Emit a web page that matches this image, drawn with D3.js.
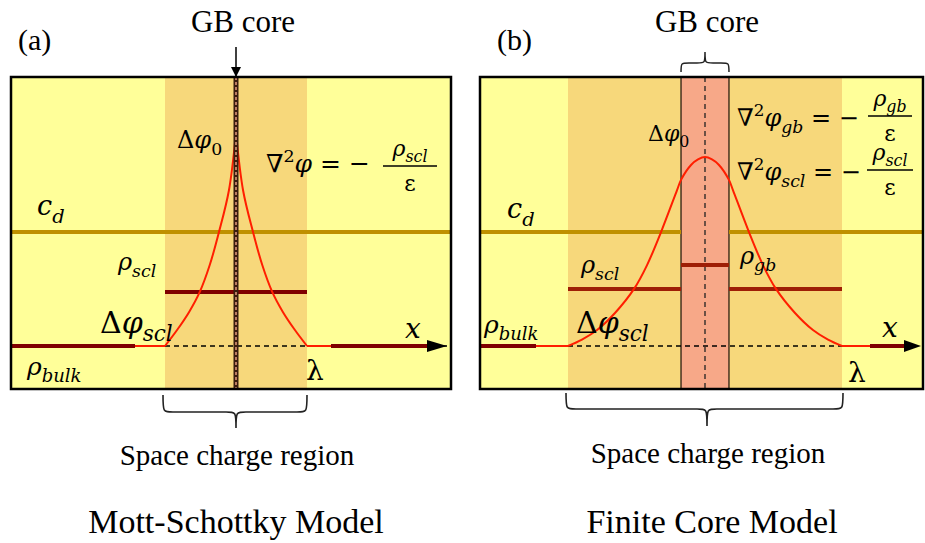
<!DOCTYPE html>
<meta charset="utf-8">
<script src="https://d3js.org/d3.v7.min.js"></script>
<style>
body { margin: 0; background: #fff; }
</style>
<div id="my_dataviz"></div>
<script>

// ---- data ----
var panelTags = ["(a)", "(b)"];
var modelNames = ["Mott-Schottky Model", "Finite Core Model"];
var regionLabel = "Space charge region";
var coreLabel = "GB core";

// potential profile, position in units of lambda, potential relative to peak of (a)
var msPos = [-1, -0.83, -0.66, -0.51, -0.37, -0.24, -0.1, 0];
var msPhi = [0, 0.075, 0.16, 0.254, 0.38, 0.535, 0.73, 1];
var msPosR = [0, 0.1, 0.24, 0.37, 0.51, 0.66, 0.83, 1];
var msPhiR = [1, 0.73, 0.535, 0.38, 0.254, 0.16, 0.075, 0];

var fcPos = [-1, -0.898, -0.788, -0.657, -0.518, -0.423, -0.321, -0.204, -0.175, -0.102, -0.051, 0,
             0.051, 0.102, 0.175, 0.204, 0.321, 0.423, 0.518, 0.657, 0.788, 0.898, 1];
var fcPhi = [0, 0.03, 0.075, 0.155, 0.268, 0.38, 0.535, 0.732, 0.78, 0.85, 0.876, 0.887,
             0.876, 0.85, 0.78, 0.732, 0.535, 0.38, 0.268, 0.155, 0.075, 0.03, 0];
var fcCore = 0.175;   // half width of the finite core (units of lambda)

// horizontal levels (same vertical units)
var levelCd = 0.535;
var msScl = 0.254;
var fcScl = 0.268;
var fcGb = 0.38;

// ---- layout ----
var W = 925, H = 543;
var SERIF = "'Liberation Serif', 'Times New Roman', Times, serif";
var MATHF = "'DejaVu Serif', 'Liberation Serif', serif";

var svg = d3.select("#my_dataviz").append("svg")
  .attr("width", W).attr("height", H);

var defs = svg.append("defs");
defs.append("marker").attr("id", "arr")
  .attr("viewBox", "0 0 10 10").attr("refX", 10).attr("refY", 5)
  .attr("markerWidth", 12).attr("markerHeight", 10).attr("markerUnits", "userSpaceOnUse")
  .attr("orient", "auto")
  .append("path").attr("d", "M0,0 L10,5 L0,10 z").attr("fill", "#000");

var y = d3.scaleLinear().domain([0, 1]).range([346, 133]);
var xa = d3.scaleLinear().domain([-1, 1]).range([165, 307]);
var xb = d3.scaleLinear().domain([-1, 1]).range([568, 842]);

var YELLOW = "#FFFF99", BAND = "#F7D87B", CD = "#BF9000", MAROON = "#7F0000",
    BRICK = "#9E1E06", RED = "#FF1E00", CORE = "#F7A888";

var boxes = [{x0: 11, x1: 451}, {x0: 480, x1: 923}];
var top0 = 77, bot0 = 389;

function brace(x1, x2, y0, ym, tip, xm, r) {
  return "M" + x1 + "," + y0 +
    " C" + x1 + "," + ym + " " + x1 + "," + ym + " " + (x1 + r) + "," + ym +
    " L" + (xm - r) + "," + ym +
    " C" + xm + "," + ym + " " + xm + "," + ym + " " + xm + "," + tip +
    " C" + xm + "," + ym + " " + xm + "," + ym + " " + (xm + r) + "," + ym +
    " L" + (x2 - r) + "," + ym +
    " C" + x2 + "," + ym + " " + x2 + "," + ym + " " + x2 + "," + y0;
}

function label(x, yy, txt, size, anchor) {
  svg.append("text").attr("x", x).attr("y", yy)
    .attr("font-family", SERIF).attr("font-size", size).attr("fill", "#000")
    .attr("text-anchor", anchor || "start").text(txt);
}

// math text: parts = [[text, kind]] kind: "i" italic, "u" upright, "s" subscript, "n" upright subscript, "p" superscript
function math(x, yy, parts, size, anchor) {
  var t = svg.append("text").attr("x", x).attr("y", yy)
    .attr("font-family", MATHF).attr("font-style", "italic").attr("fill", "#000")
    .attr("font-size", size).attr("text-anchor", anchor || "start");
  var shift = 0;
  parts.forEach(function(p) {
    var sp = t.append("tspan").text(p[0]);
    var target = 0;
    if (p[1] == "s" || p[1] == "n") { target = size * 0.28; sp.attr("font-size", size * 0.72); }
    if (p[1] == "p") { target = -size * 0.4; sp.attr("font-size", size * 0.7).attr("font-style", "normal"); }
    if (p[1] == "u" || p[1] == "n") sp.attr("font-style", "normal");
    sp.attr("dy", target - shift);
    shift = target;
  });
  return t;
}

function frac(cx, numY, barY, denY, num, sub, size, w) {
  math(cx, numY, [[num, "i"], [sub, "s"]], size, "middle");
  svg.append("line").attr("x1", cx - w / 2).attr("x2", cx + w / 2)
    .attr("y1", barY).attr("y2", barY).attr("stroke", "#000").attr("stroke-width", 1.3);
  math(cx, denY, [["ε", "u"]], size, "middle");
}

var curveLine = function(xs) {
  return d3.line().x(function(d) { return xs(d[0]); }).y(function(d) { return y(d[1]); })
    .curve(d3.curveCatmullRom.alpha(0.5));
};

// ================= panel (a) =================
var A = boxes[0];
svg.append("rect").attr("x", A.x0).attr("y", top0).attr("width", A.x1 - A.x0).attr("height", bot0 - top0).attr("fill", YELLOW);
svg.append("rect").attr("x", xa(-1)).attr("y", top0).attr("width", xa(1) - xa(-1)).attr("height", bot0 - top0).attr("fill", BAND);

svg.append("line").attr("x1", A.x0).attr("x2", A.x1).attr("y1", y(levelCd)).attr("y2", y(levelCd))
  .attr("stroke", CD).attr("stroke-width", 4);
svg.append("line").attr("x1", xa(-1)).attr("x2", xa(1)).attr("y1", y(msScl)).attr("y2", y(msScl))
  .attr("stroke", MAROON).attr("stroke-width", 4);

// baseline
svg.append("line").attr("x1", A.x0).attr("x2", 135).attr("y1", y(0)).attr("y2", y(0)).attr("stroke", MAROON).attr("stroke-width", 4);
svg.append("line").attr("x1", 135).attr("x2", xa(-1)).attr("y1", y(0)).attr("y2", y(0)).attr("stroke", RED).attr("stroke-width", 2);
svg.append("line").attr("x1", xa(-1)).attr("x2", 447).attr("y1", y(0)).attr("y2", y(0)).attr("stroke", "#000")
  .attr("stroke-width", 1.3).attr("stroke-dasharray", "5,4");
svg.append("line").attr("x1", xa(1)).attr("x2", 331).attr("y1", y(0)).attr("y2", y(0)).attr("stroke", RED).attr("stroke-width", 2);
svg.append("line").attr("x1", 331).attr("x2", 427).attr("y1", y(0)).attr("y2", y(0)).attr("stroke", MAROON).attr("stroke-width", 4);
svg.append("path").attr("d", "M427,340 L447,346 L427,352 z").attr("fill", "#000");

svg.append("path").datum(d3.zip(msPos, msPhi)).attr("d", curveLine(xa))
  .attr("fill", "none").attr("stroke", RED).attr("stroke-width", 2);
svg.append("path").datum(d3.zip(msPosR, msPhiR)).attr("d", curveLine(xa))
  .attr("fill", "none").attr("stroke", RED).attr("stroke-width", 2);

// thin core
svg.append("rect").attr("x", xa(0) - 2.5).attr("y", top0).attr("width", 5).attr("height", bot0 - top0).attr("fill", "#3A1E0E");
svg.append("line").attr("x1", xa(0)).attr("x2", xa(0)).attr("y1", top0).attr("y2", bot0)
  .attr("stroke", "#F2A585").attr("stroke-width", 1.4).attr("stroke-dasharray", "3,2");

svg.append("rect").attr("x", A.x0).attr("y", top0).attr("width", A.x1 - A.x0).attr("height", bot0 - top0)
  .attr("fill", "none").attr("stroke", "#000").attr("stroke-width", 2.5);

svg.append("line").attr("x1", xa(0)).attr("x2", xa(0)).attr("y1", 47).attr("y2", 77)
  .attr("stroke", "#000").attr("stroke-width", 1.5).attr("marker-end", "url(#arr)");

svg.append("path").attr("d", brace(163, 307, 395, 412, 428, xa(0), 10))
  .attr("fill", "none").attr("stroke", "#222").attr("stroke-width", 1.6);

label(18, 50, panelTags[0], 30);
label(243, 32, coreLabel, 31, "middle");
label(237, 465, regionLabel, 29, "middle");
label(236, 533, modelNames[0], 34, "middle");

math(177, 148, [["Δ", "u"], ["φ", "i"], ["0", "n"]], 24);
math(266, 172, [["∇", "u"], ["2", "p"], ["φ", "i"], [" = − ", "u"]], 25);
frac(410, 156, 166, 191, "ρ", "scl", 22, 54);
math(37, 215, [["c", "i"], ["d", "s"]], 27);
math(118, 270, [["ρ", "i"], ["scl", "s"]], 24);
math(100, 333, [["Δ", "u"], ["φ", "i"], ["scl", "s"]], 30);
math(27, 375, [["ρ", "i"], ["bulk", "s"]], 25);
math(405, 338, [["x", "i"]], 28);
math(306, 380, [["λ", "u"]], 28);

// ================= panel (b) =================
var B = boxes[1];
svg.append("rect").attr("x", B.x0).attr("y", top0).attr("width", B.x1 - B.x0).attr("height", bot0 - top0).attr("fill", YELLOW);
svg.append("rect").attr("x", xb(-1)).attr("y", top0).attr("width", xb(1) - xb(-1)).attr("height", bot0 - top0).attr("fill", BAND);
svg.append("rect").attr("x", xb(-fcCore)).attr("y", top0).attr("width", xb(fcCore) - xb(-fcCore)).attr("height", bot0 - top0)
  .attr("fill", CORE).attr("stroke", "#3A2A1A").attr("stroke-width", 1.4);
svg.append("line").attr("x1", xb(0)).attr("x2", xb(0)).attr("y1", top0).attr("y2", bot0)
  .attr("stroke", "#222").attr("stroke-width", 1.3).attr("stroke-dasharray", "5,4");

svg.append("line").attr("x1", B.x0).attr("x2", xb(-fcCore)).attr("y1", y(levelCd)).attr("y2", y(levelCd)).attr("stroke", CD).attr("stroke-width", 4);
svg.append("line").attr("x1", xb(fcCore)).attr("x2", B.x1).attr("y1", y(levelCd)).attr("y2", y(levelCd)).attr("stroke", CD).attr("stroke-width", 4);
svg.append("line").attr("x1", xb(-1)).attr("x2", xb(-fcCore)).attr("y1", y(fcScl)).attr("y2", y(fcScl)).attr("stroke", BRICK).attr("stroke-width", 4);
svg.append("line").attr("x1", xb(fcCore)).attr("x2", xb(1)).attr("y1", y(fcScl)).attr("y2", y(fcScl)).attr("stroke", BRICK).attr("stroke-width", 4);
svg.append("line").attr("x1", xb(-fcCore)).attr("x2", xb(fcCore)).attr("y1", y(fcGb)).attr("y2", y(fcGb)).attr("stroke", BRICK).attr("stroke-width", 4);

svg.append("line").attr("x1", B.x0).attr("x2", 536).attr("y1", y(0)).attr("y2", y(0)).attr("stroke", MAROON).attr("stroke-width", 4);
svg.append("line").attr("x1", 536).attr("x2", xb(-1)).attr("y1", y(0)).attr("y2", y(0)).attr("stroke", RED).attr("stroke-width", 2);
svg.append("line").attr("x1", xb(-1)).attr("x2", xb(1)).attr("y1", y(0)).attr("y2", y(0)).attr("stroke", "#000")
  .attr("stroke-width", 1.3).attr("stroke-dasharray", "5,4");
svg.append("line").attr("x1", xb(1)).attr("x2", 870).attr("y1", y(0)).attr("y2", y(0)).attr("stroke", RED).attr("stroke-width", 2);
svg.append("line").attr("x1", 870).attr("x2", 906).attr("y1", y(0)).attr("y2", y(0)).attr("stroke", MAROON).attr("stroke-width", 4);
svg.append("path").attr("d", "M904,340 L921,346 L904,352 z").attr("fill", "#000");

svg.append("path").datum(d3.zip(fcPos, fcPhi)).attr("d", curveLine(xb))
  .attr("fill", "none").attr("stroke", RED).attr("stroke-width", 2);

svg.append("rect").attr("x", B.x0).attr("y", top0).attr("width", B.x1 - B.x0).attr("height", bot0 - top0)
  .attr("fill", "none").attr("stroke", "#000").attr("stroke-width", 2.5);

svg.append("path").attr("d", brace(xb(-fcCore), xb(fcCore), 72, 63, 52, xb(0), 8))
  .attr("fill", "none").attr("stroke", "#222").attr("stroke-width", 1.5);
svg.append("path").attr("d", brace(566, 843, 393, 409, 426, 707, 10))
  .attr("fill", "none").attr("stroke", "#222").attr("stroke-width", 1.6);

label(497, 50, panelTags[1], 30);
label(707, 32, coreLabel, 31, "middle");
label(708, 463, regionLabel, 29, "middle");
label(712, 533, modelNames[1], 34, "middle");

math(648, 141, [["Δ", "u"], ["φ", "i"], ["0", "n"]], 22);
math(737, 126, [["∇", "u"], ["2", "p"], ["φ", "i"], ["gb", "s"], [" = − ", "u"]], 24);
frac(890, 106, 116, 141, "ρ", "gb", 22, 44);
math(737, 180, [["∇", "u"], ["2", "p"], ["φ", "i"], ["scl", "s"], [" = − ", "u"]], 24);
frac(890, 160, 170, 195, "ρ", "scl", 22, 46);
math(507, 218, [["c", "i"], ["d", "s"]], 27);
math(581, 273, [["ρ", "i"], ["scl", "s"]], 24);
math(740, 264, [["ρ", "i"], ["gb", "s"]], 24);
math(484, 333, [["ρ", "i"], ["bulk", "s"]], 25);
math(576, 333, [["Δ", "u"], ["φ", "i"], ["scl", "s"]], 30);
math(882, 337, [["x", "i"]], 28);
math(848, 382, [["λ", "u"]], 28);

</script>
